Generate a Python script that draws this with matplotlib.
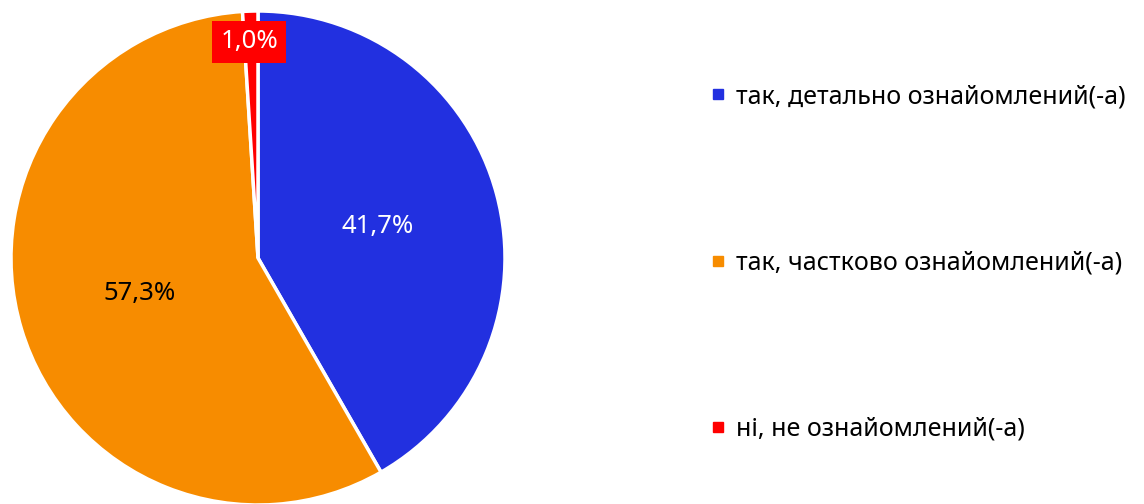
import matplotlib
matplotlib.use("Agg")
import matplotlib.pyplot as plt
from matplotlib.lines import Line2D

plt.rcParams['font.family'] = ['Noto Sans', 'DejaVu Sans']

labels = ['так, детально ознайомлений(-а)',
          'так, частково ознайомлений(-а)',
          'ні, не ознайомлений(-а)']
values = [41.7, 57.3, 1.0]
colors = ['#2230E0', '#F78C00', '#FF0000']
text_colors = ['white', 'black', 'white']

fig = plt.figure(figsize=(11.44, 5.04), dpi=100)
# pie axes sized so the circle sits at the left, like the original
ax = fig.add_axes([11 / 1144, -1 / 504, 494 / 1144, 494 / 504])

wedges, texts, autotexts = ax.pie(
    values, colors=colors, startangle=90, counterclock=False,
    radius=1, pctdistance=0.5,
    autopct=lambda p: f'{p:.1f}%'.replace('.', ','),
    wedgeprops=dict(edgecolor='white', linewidth=2.5),
    textprops=dict(fontsize=18.5, fontweight='light'))
ax.set_xlim(-1.0, 1.0)
ax.set_ylim(-1.0, 1.0)

for t, c in zip(autotexts, text_colors):
    t.set_color(c)

# the small slice gets its label near the rim, boxed in red
autotexts[2].set_position((-0.035, 0.875))
autotexts[2].set_bbox(dict(facecolor='#FF0000', edgecolor='none', pad=6))

handles = [Line2D([0], [0], marker='s', linestyle='none', markersize=7.5,
                  markerfacecolor=c, markeredgecolor=c) for c in colors]
leg = fig.legend(handles, labels, loc='upper left',
                 bbox_to_anchor=(700 / 1144, 1 - 74 / 504),
                 frameon=False, fontsize=18, labelspacing=5.65,
                 handlelength=0.6, handletextpad=0.45, borderaxespad=0)

fig.savefig('out.png', dpi=100)
